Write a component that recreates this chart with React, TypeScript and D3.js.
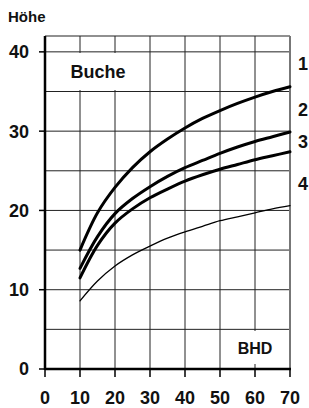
import * as d3 from "d3";

const bhd = [10, 15, 20, 25, 30, 35, 40, 45, 50, 55, 60, 65, 70];
const curve1 = [15.0, 19.7, 22.9, 25.4, 27.4, 29.0, 30.4, 31.6, 32.6, 33.5, 34.3, 35.0, 35.6];
const curve2 = [12.7, 16.7, 19.6, 21.5, 23.0, 24.3, 25.4, 26.3, 27.2, 28.0, 28.7, 29.3, 29.9];
const curve3 = [11.5, 15.6, 18.4, 20.2, 21.6, 22.7, 23.7, 24.5, 25.2, 25.8, 26.4, 26.9, 27.4];
const curve4 = [8.6, 11.1, 13.0, 14.4, 15.5, 16.5, 17.3, 18.0, 18.7, 19.2, 19.7, 20.2, 20.6];
const curveLabels = ["1", "2", "3", "4"];
const labelPos = [38.5, 32.7, 28.7, 23.4];
const xTicks = [0, 10, 20, 30, 40, 50, 60, 70];
const yTicks = [0, 10, 20, 30, 40];
const yGrid = [5, 10, 15, 20, 25, 30, 35, 40];
const xGrid = [10, 20, 30, 40, 50, 60];

const width = 309;
const height = 408;
const font = "'Liberation Sans', Arial, sans-serif";

export default function App() {
  const x = d3.scaleLinear().domain([0, 70]).range([45, 290]);
  const y = d3.scaleLinear().domain([0, 42]).range([369, 36]);

  const line = d3
    .line<number>()
    .x((d, i) => x(bhd[i]))
    .y((d) => y(d))
    .curve(d3.curveCatmullRom.alpha(0.5));

  const series = [curve1, curve2, curve3, curve4];

  return (
    <svg
      width={width}
      height={height}
      style={{ position: "absolute", left: 0, top: 0, background: "#fff" }}
      fontFamily={font}
      fontWeight="bold"
    >
      {/* grid */}
      {yGrid.map((v) => (
        <line key={"h" + v} x1={x(0)} x2={x(70)} y1={y(v)} y2={y(v)} stroke="#222" strokeWidth={1} />
      ))}
      {xGrid.map((v) => (
        <line key={"v" + v} x1={x(v)} x2={x(v)} y1={y(0)} y2={y(42)} stroke="#222" strokeWidth={1} />
      ))}
      {/* frame */}
      <line x1={x(0)} x2={x(70)} y1={y(42)} y2={y(42)} stroke="#222" strokeWidth={1.2} />
      <line x1={x(70)} x2={x(70)} y1={y(42)} y2={y(0)} stroke="#777" strokeWidth={2} />

      {/* label boxes */}
      <rect x={60} y={53} width={80} height={37} fill="#fff" />
      <text x={98} y={78} fontSize={18} textAnchor="middle" fill="#111">
        Buche
      </text>
      <rect x={232} y={331} width={53} height={33} fill="#fff" />
      <text x={255} y={354} fontSize={16} textAnchor="middle" fill="#111">
        BHD
      </text>

      {/* axes */}
      <line x1={x(0)} x2={x(0)} y1={y(42)} y2={y(0) + 1} stroke="#000" strokeWidth={2.5} />
      <line x1={x(0)} x2={x(70) + 1} y1={y(0)} y2={y(0)} stroke="#000" strokeWidth={2.5} />
      {yTicks.map((v) => (
        <g key={"yt" + v}>
          <line x1={39} x2={x(0)} y1={y(v)} y2={y(v)} stroke="#000" strokeWidth={1.5} />
          <text x={29} y={y(v)} dy="0.36em" fontSize={18} textAnchor="end" fill="#111">
            {v}
          </text>
        </g>
      ))}
      {xTicks.map((v) => (
        <g key={"xt" + v}>
          <line x1={x(v)} x2={x(v)} y1={y(0)} y2={y(0) + 8} stroke="#000" strokeWidth={1.5} />
          <text x={x(v)} y={404} fontSize={18} textAnchor="middle" fill="#111">
            {v}
          </text>
        </g>
      ))}
      <text x={8} y={22} fontSize={15} fill="#111">
        Höhe
      </text>

      {/* curves */}
      {series.map((s, i) => (
        <path
          key={"c" + i}
          d={line(s) ?? ""}
          fill="none"
          stroke="#000"
          strokeWidth={i < 3 ? 3 : 1.3}
          strokeLinecap="round"
        />
      ))}
      {curveLabels.map((l, i) => (
        <text key={"l" + i} x={298} y={y(labelPos[i])} dy="0.36em" fontSize={18} fill="#111">
          {l}
        </text>
      ))}
    </svg>
  );
}
